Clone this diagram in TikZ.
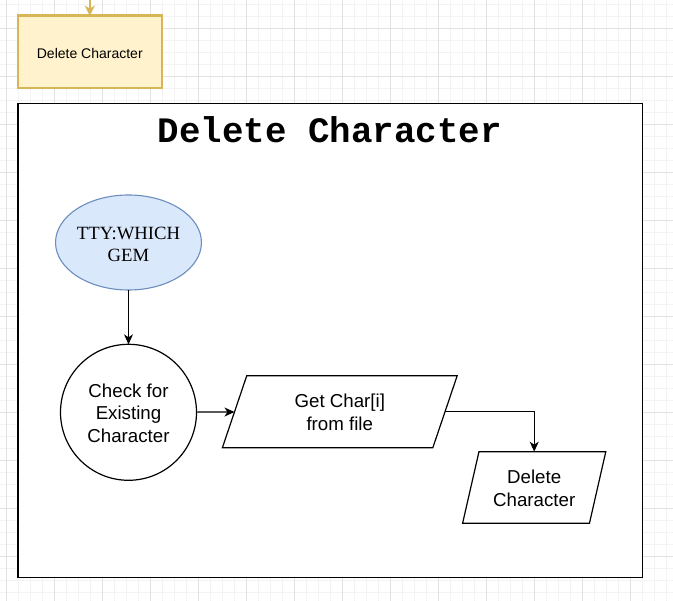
\documentclass[tikz,border=0pt]{standalone}
\usepackage{fontspec}
\setmainfont{Liberation Sans}
\newfontfamily\seriffont{Liberation Serif}
\newfontfamily\monofont{Liberation Mono}
\usetikzlibrary{shapes.geometric,arrows.meta}
\definecolor{ylfill}{HTML}{FFF2CC}
\definecolor{ylline}{HTML}{D6B656}
\definecolor{blfill}{HTML}{DAE8FC}
\definecolor{blline}{HTML}{6C8EBF}
\definecolor{gridminor}{HTML}{F3F3F3}
\definecolor{gridmajor}{HTML}{E2E2E2}
\newcommand{\topstrut}[1]{\rule{0pt}{#1}}
\tikzset{
  minorline/.style={draw=gridminor,line width=1pt},
  majorline/.style={draw=gridmajor,line width=1pt},
  txt/.style={font=\fontsize{18.7}{22.4}\selectfont,align=center},
  yellowbox/.style={draw=ylline,fill=ylfill,line width=2.3pt,minimum width=144.3pt,minimum height=72.3pt,inner sep=0pt,outer sep=0pt,text height=13pt,text depth=0pt,font=\fontsize{14}{16.8}\selectfont},
  container/.style={draw=black,fill=white,line width=1.4pt,minimum width=624.3pt,minimum height=473.6pt,inner sep=0pt},
  bluell/.style={ellipse,draw=blline,fill=blfill,line width=1.1pt,minimum width=144.7pt,minimum height=95pt,inner sep=0pt,outer sep=0pt,font=\seriffont\fontsize{18.7}{22.4}\selectfont,align=center},
  circ/.style={circle,draw=black,fill=white,line width=1.2pt,minimum size=136pt,inner sep=0pt,outer sep=0pt,txt},
  para/.style={trapezium,trapezium stretches=true,trapezium left angle=72.3,trapezium right angle=107.7,draw=black,fill=white,line width=1.2pt,inner sep=0pt,outer sep=0pt,txt},
  arr/.style={draw=black,line width=1.2pt,-{Stealth[length=10pt,width=9pt,inset=3pt]}},
  yarr/.style={draw=ylline,line width=2pt,-{Stealth[length=10pt,width=10pt,inset=3pt]}}
}
\begin{document}
\begin{tikzpicture}[x=1pt,y=-1pt]
\useasboundingbox (0,0) rectangle (673,601);
\fill[white] (0,0) rectangle (673,601);
% grid
\foreach \i in {0,...,55} \draw[minorline] ({6.3+12*\i},0) -- ({6.3+12*\i},601);
\foreach \i in {0,...,49} \draw[minorline] (0,{4.3+12*\i}) -- (673,{4.3+12*\i});
\foreach \i in {0,...,13} \draw[majorline] ({6.3+48*\i},0) -- ({6.3+48*\i},601);
\foreach \i in {0,...,11} \draw[majorline] (0,{28.3+48*\i}) -- (673,{28.3+48*\i});
% top yellow box
\coordinate (topin) at (89.8,0);
\node[yellowbox] (yb) at (89.8,51.8) {Delete Character};
\draw[yarr] (topin) -- (yb);
% container
\node[container] (frame) at (330.15,340.5) {};
\node[font=\monofont\bfseries\fontsize{35.8}{40}\selectfont,anchor=base] (title) at (329.7,142.7) {Delete Character};
% nodes
\node[bluell] (tty) at (128.5,242.5) {\topstrut{16pt}TTY:WHICH\\GEM};
\node[circ] (chk) at (128.5,412.3) {\topstrut{15pt}Check for\\Existing\\Character};
\node[para,minimum width=235pt,minimum height=72pt] (get) at (339.8,411.7) {\topstrut{14.5pt}Get Char[i]\\from file};
\node[para,minimum width=143.4pt,minimum height=71.6pt] (del) at (534.2,487.5) {\topstrut{15.5pt}Delete\\Character};
% connectors
\draw[arr] (tty) -- (chk);
\draw[arr] (chk) -- (get);
\draw[arr] (get) -| (del);
\end{tikzpicture}
\end{document}
